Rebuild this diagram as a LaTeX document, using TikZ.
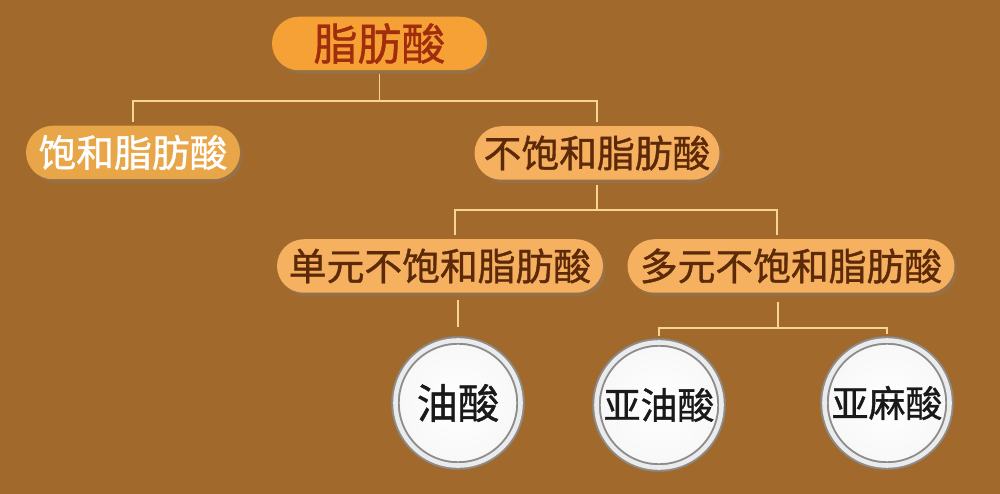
\documentclass[tikz,border=0pt]{standalone}
\usepackage{fontspec}
\newfontfamily\cjk[FakeBold=1]{Noto Sans CJK SC}
\usepackage{tikz}
\usetikzlibrary{shapes.misc,shadows,calc}
\definecolor{bark}{RGB}{161,106,44}
\definecolor{amber}{RGB}{246,161,54}
\definecolor{honey}{RGB}{233,166,72}
\definecolor{peach}{RGB}{245,176,96}
\definecolor{wire}{RGB}{248,214,145}
\definecolor{rust}{RGB}{160,46,12}
\definecolor{cocoa}{RGB}{92,42,8}
\tikzset{
  pill/.style={rounded rectangle, minimum height=1.07cm, inner sep=0pt, fill=peach, text=cocoa,
               font=\cjk\fontsize{21.5}{24}\selectfont,
               drop shadow={opacity=0.3, shadow xshift=1.5pt, shadow yshift=-2pt}},
  disc/.style={circle, minimum size=2.5cm, inner sep=0pt, draw=black!45, line width=1.1pt,
               double=black!8, double distance=2.6pt, inner color=white, outer color=black!3,
               text=black!90, font=\cjk\fontsize{21}{24}\selectfont,
               drop shadow={opacity=0.3, shadow xshift=1pt, shadow yshift=-2pt}},
  link/.style={wire, line width=1.1pt},
}
\begin{document}
\begin{tikzpicture}
        \useasboundingbox (0,0) rectangle (20,-9.88);
        \fill[bark] (0,0) rectangle (20,-9.88);
        \node[pill,minimum width=4.3cm,fill=amber,text=rust,font=\cjk\fontsize{25}{28}\selectfont] (fat) at (7.59,-0.87) {脂肪酸};
        \node[pill,minimum width=4.28cm,fill=honey,text=white] (sat) at (2.66,-3.05) {饱和脂肪酸};
        \node[pill,minimum width=4.9cm] (unsat) at (11.94,-3.06) {不饱和脂肪酸};
        \node[pill,minimum width=6.52cm] (mono) at (8.8,-5.32) {单元不饱和脂肪酸};
        \node[pill,minimum width=6.54cm] (poly) at (15.82,-5.32) {多元不饱和脂肪酸};
        \node[disc,font=\cjk\fontsize{23.5}{26}\selectfont] (oleic) at (9.16,-8.06) {油酸};
        \node[disc] (linoleic) at (13.18,-8.1) {亚油酸};
        \node[disc] (linolenic) at (17.74,-8.06) {亚麻酸};
        % connectors
        \draw[link,shorten <=2pt] (fat.south) -- ++(0,-0.6) coordinate (fork1);
        \draw[link,shorten >=2pt] (fork1) -| (sat.north);
        \draw[link,shorten >=2pt] (fork1) -| (unsat.north);
        \draw[link,shorten <=3pt] (unsat.south) -- ++(0,-0.6) coordinate (fork2);
        \draw[link,shorten >=2pt] (fork2) -| ([xshift=0.3cm]mono.north);
        \draw[link,shorten >=2pt] (fork2) -| ([xshift=-0.28cm]poly.north);
        \draw[link,shorten <=4pt,shorten >=7pt] (oleic.north |- mono.south) -- (oleic.north);
        \draw[link,shorten <=5pt] ([xshift=-0.26cm]poly.south) -- ++(0,-0.7) coordinate (fork3);
        \draw[link,shorten >=3pt] (fork3) -| (linoleic.north);
        \draw[link,shorten >=3pt] (fork3) -| (linolenic.north);
\end{tikzpicture}
\end{document}
